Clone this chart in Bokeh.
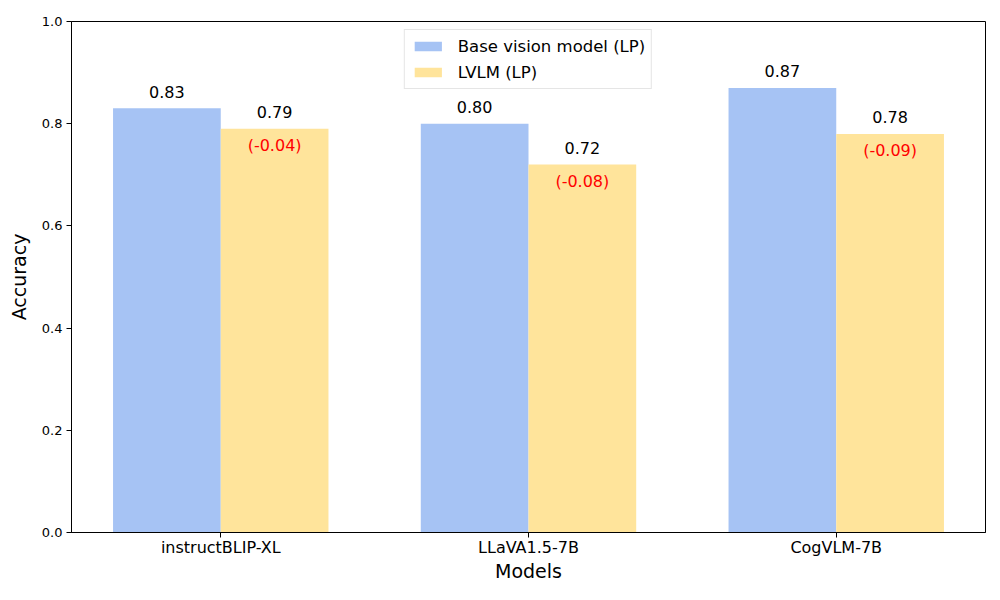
import numpy as np
from bokeh.plotting import figure
from bokeh.models import ColumnDataSource, Range1d, FixedTicker, Legend
from bokeh.core.properties import value
from bokeh.embed import file_html
from bokeh.resources import INLINE

categories = ["instructBLIP-XL", "LLaVA1.5-7B", "CogVLM-7B"]
base_acc = [0.83, 0.80, 0.87]
lvlm_acc = [0.79, 0.72, 0.78]
y_ticks = [0.0, 0.2, 0.4, 0.6, 0.8, 1.0]

BLUE = "#a6c3f4"
YELLOW = "#ffe49b"
FONT = "DejaVu Sans"
W = 0.35

x = np.arange(len(categories))
diffs = [l - b for b, l in zip(base_acc, lvlm_acc)]

src = ColumnDataSource(dict(
    xb=x - W / 2, xl=x + W / 2,
    base=base_acc, lvlm=lvlm_acc,
    base_txt=[f"{v:.2f}" for v in base_acc],
    lvlm_txt=[f"{v:.2f}" for v in lvlm_acc],
    diff_txt=[f"({d:.2f})" for d in diffs],
    base_y=[v + 0.033 for v in base_acc],
    lvlm_y=[v + 0.033 for v in lvlm_acc],
    diff_y=[v - 0.033 for v in lvlm_acc],
))

p = figure(width=992, height=584, output_backend="svg", toolbar_location=None,
           x_range=Range1d(-0.485, 2.485), y_range=Range1d(0, 1),
           min_border_left=71, min_border_right=7, min_border_top=21, min_border_bottom=51)

r1 = p.vbar(x="xb", top="base", width=W, source=src, color=BLUE, line_color=None)
r2 = p.vbar(x="xl", top="lvlm", width=W, source=src, color=YELLOW, line_color=None)

p.text(x="xb", y="base_y", text="base_txt", source=src, text_align="center",
       text_baseline="alphabetic", text_font=value(FONT), text_font_size="16px", text_color="black")
p.text(x="xl", y="lvlm_y", text="lvlm_txt", source=src, text_align="center",
       text_baseline="alphabetic", text_font=value(FONT), text_font_size="16px", text_color="black")
p.text(x="xl", y="diff_y", text="diff_txt", source=src, text_align="center",
       text_baseline="alphabetic", text_font=value(FONT), text_font_size="16px", text_color="red")

legend = Legend(items=[("Base vision model (LP)", [r1]), ("LVLM (LP)", [r2])],
                location="top_center", margin=8, padding=6, spacing=6,
                label_height=20, glyph_height=12, glyph_width=34, label_standoff=13,
                label_text_font=FONT, label_text_font_size="16.5px", label_text_color="black",
                border_line_color="#cccccc", border_line_width=1, background_fill_alpha=0.8)
p.add_layout(legend)

p.grid.visible = False
p.outline_line_color = "black"
p.outline_line_alpha = 1
p.outline_line_width = 1

p.xaxis.ticker = FixedTicker(ticks=list(x))
p.xaxis.major_label_overrides = {int(i): c for i, c in zip(x, categories)}
p.xaxis.major_label_text_font_size = "16px"
p.xaxis.axis_label = "Models"
p.yaxis.ticker = FixedTicker(ticks=y_ticks)
p.yaxis.major_label_overrides = {t: f"{t:.1f}" for t in y_ticks}
p.yaxis.major_label_text_font_size = "13px"
p.yaxis.axis_label = "Accuracy"

for ax in (p.xaxis[0], p.yaxis[0]):
    ax.major_label_text_font = FONT
    ax.major_label_text_color = "black"
    ax.axis_label_text_font = FONT
    ax.axis_label_text_font_size = "19px"
    ax.axis_label_text_font_style = "normal"
    ax.axis_label_text_color = "black"
    ax.major_tick_in = 0
    ax.major_tick_out = 5
    ax.minor_tick_line_color = None
    ax.axis_line_color = "black"
    ax.major_tick_line_color = "black"

p.xaxis.major_label_standoff = 0
p.xaxis.axis_label_standoff = 0
p.yaxis.major_label_standoff = 4
p.yaxis.axis_label_standoff = 9

open("out.html", "w").write(file_html(p, INLINE))
